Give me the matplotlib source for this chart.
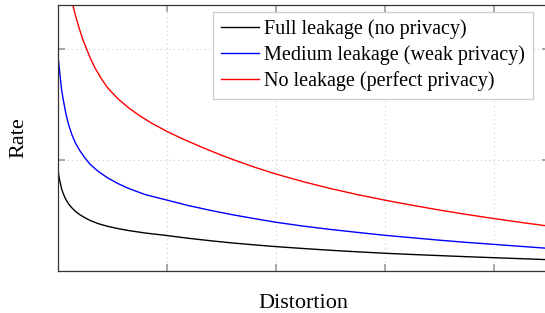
from matplotlib import pyplot as plt

# values
full_x = [0, 0.005, 0.01, 0.02, 0.035, 0.05, 0.075, 0.1, 0.13, 0.16, 0.2, 0.25, 0.3, 0.37, 0.45,
          0.55, 0.65, 0.8, 1.0, 1.2, 1.4, 1.6, 1.8, 2.0, 2.25, 2.5, 2.75, 3.0, 3.25, 3.5, 3.75,
          4.0, 4.25, 4.5]
full_rate = [1.0, 0.90, 0.86, 0.81, 0.745, 0.70, 0.645, 0.605, 0.57, 0.54, 0.51, 0.48, 0.455,
             0.428, 0.405, 0.383, 0.365, 0.343, 0.32, 0.295, 0.273, 0.253, 0.236, 0.22, 0.203,
             0.187, 0.173, 0.16, 0.149, 0.139, 0.129, 0.12, 0.111, 0.102]

medium_x = [0, 0.005, 0.01, 0.02, 0.035, 0.05, 0.075, 0.1, 0.13, 0.16, 0.2, 0.25, 0.3, 0.37,
            0.45, 0.55, 0.65, 0.8, 1.0, 1.2, 1.4, 1.6, 1.8, 2.0, 2.25, 2.5, 2.75, 3.0, 3.25,
            3.5, 3.75, 4.0, 4.25, 4.5]
medium_rate = [1.97, 1.92, 1.87, 1.78, 1.64, 1.55, 1.42, 1.32, 1.23, 1.16, 1.09, 1.02, 0.96,
               0.90, 0.845, 0.79, 0.745, 0.69, 0.64, 0.59, 0.547, 0.508, 0.473, 0.44, 0.405,
               0.375, 0.348, 0.322, 0.30, 0.278, 0.258, 0.24, 0.222, 0.204]

none_x = [0.138, 0.143, 0.17, 0.2, 0.23, 0.266, 0.3, 0.34, 0.4, 0.46, 0.55, 0.65, 0.75, 0.85,
          1.0, 1.15, 1.33, 1.5, 1.6, 1.8, 2.0, 2.25, 2.5, 2.75, 3.0, 3.25, 3.5, 3.75, 4.0,
          4.25, 4.5]
none_rate = [2.4, 2.38, 2.28, 2.18, 2.09, 2.0, 1.918, 1.835, 1.735, 1.65, 1.556, 1.472, 1.402,
             1.34, 1.26, 1.19, 1.113, 1.045, 1.008, 0.938, 0.875, 0.806, 0.744, 0.689,
             0.639, 0.593, 0.55, 0.51, 0.473, 0.438, 0.405]

labels = ['Full leakage (no privacy)', 'Medium leakage (weak privacy)', 'No leakage (perfect privacy)']

plt.rcParams['font.family'] = ['Liberation Serif', 'DejaVu Serif']

W, H = 545, 313
fig = plt.figure(figsize=(W / 100, H / 100), dpi=100)
# axes run a little past the right edge, like the cropped original
ax = fig.add_axes([57.7 / W, (H - 271) / H, 490.9 / W, 266 / H])

ax.plot(full_x, full_rate, c='black', lw=1.0, label=labels[0])
ax.plot(medium_x, medium_rate, c='blue', lw=1.0, label=labels[1])
ax.plot(none_x, none_rate, c='red', lw=1.0, label=labels[2])

ax.set_xlim(0, 4.5)
ax.set_ylim(0, 2.4)
ax.set_xticks([1, 2, 3, 4])
ax.set_yticks([1, 2])
ax.set_xticklabels([])
ax.set_yticklabels([])
ax.tick_params(axis='both', direction='in', length=5, width=1.2, color='#999999',
               top=True, right=True)
ax.grid(True, color='#cccccc', linestyle=(0, (1, 3)), lw=0.8)
for s in ax.spines.values():
    s.set_color('#333333')
    s.set_linewidth(0.9)

ax.set_xlabel('Distortion', fontsize=16)
ax.set_ylabel('Rate', fontsize=16)
ax.xaxis.set_label_coords(0.5, -0.088)
ax.yaxis.set_label_coords(-0.06, 0.5)

leg = ax.legend(loc='upper right', bbox_to_anchor=(533 / W, 1 - 11.7 / H),
                bbox_transform=fig.transFigure, borderaxespad=0, fontsize=14.5,
                handlelength=1.9, handletextpad=0.25, labelspacing=0.3,
                borderpad=0.4, fancybox=False, framealpha=1)
leg.get_frame().set_edgecolor('#cccccc')
leg.get_frame().set_linewidth(0.9)

fig.savefig('out.png', dpi=100)
